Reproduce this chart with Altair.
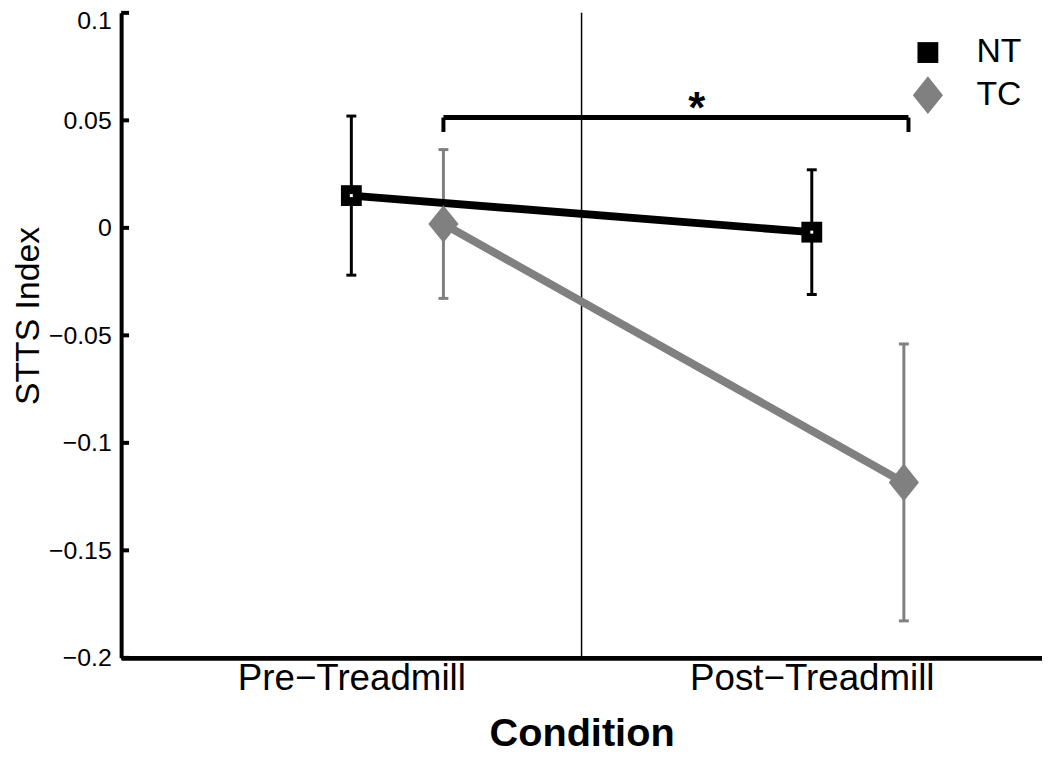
import altair as alt
import pandas as pd

# ---- data ----
groups = ["NT", "NT", "TC", "TC"]
conditions = ["Pre−Treadmill", "Post−Treadmill", "Pre−Treadmill", "Post−Treadmill"]
x_pos = [1.0, 2.0, 1.2, 2.2]
means = [0.015, -0.002, 0.0018, -0.1184]
errors = [0.037, 0.029, 0.0346, 0.0644]

group_names = ["NT", "TC"]
group_colors = ["black", "#808080"]

y_tick_values = [-0.2, -0.15, -0.1, -0.05, 0, 0.05, 0.1]
x_tick_values = [1, 2]
x_tick_labels = ["Pre−Treadmill", "Post−Treadmill"]

divider_x = [1.5]
bracket_x = [1.2, 2.21]
bracket_top = [0.0513]
bracket_bottom = [0.0446]
star_x = [1.75]
star_y = [0.0595]
star_text = ["*"]

FONT = "Liberation Sans"

df = pd.DataFrame({"group": groups, "condition": conditions, "x": x_pos,
                   "mean": means, "err": errors})
df["lo"] = df["mean"] - df["err"]
df["hi"] = df["mean"] + df["err"]

xscale = alt.Scale(domain=[0.5, 2.5], nice=False, zero=False)
yscale = alt.Scale(domain=[-0.2, 0.1], nice=False, zero=False)
cscale = alt.Scale(domain=group_names, range=group_colors)

x_label_expr = f"datum.value == {x_tick_values[0]} ? '{x_tick_labels[0]}' : '{x_tick_labels[1]}'"
y_label_expr = "datum.value == 0 ? '0' : replace(format(datum.value, '~g'), '-', '−')"

x_axis = alt.Axis(values=x_tick_values, labelExpr=x_label_expr, title="Condition",
                  ticks=False, tickSize=0, grid=False, domainWidth=5, domainColor="black",
                  labelFont=FONT, labelFontSize=37, labelColor="black", labelLimit=600,
                  labelBaseline="alphabetic", labelPadding=32, labelOverlap=False,
                  labelFlush=False,
                  titleFont=FONT, titleFontSize=40, titleFontWeight="bold",
                  titleColor="black", titleBaseline="alphabetic", titleY=88)
y_axis = alt.Axis(values=y_tick_values, labelExpr=y_label_expr, title="STTS Index",
                  ticks=False, tickSize=0, grid=False, domainWidth=4, domainColor="black",
                  labelFont=FONT, labelFontSize=25, labelColor="black", labelPadding=10,
                  labelOverlap=False, labelFlush=False,
                  labelOffset=alt.condition("datum.value == 0.1", alt.value(8), alt.value(0)),
                  titleFont=FONT, titleFontSize=34, titleFontWeight="normal",
                  titleColor="black", titleBaseline="alphabetic", titleAngle=270,
                  titleX=-83, titleY=305)

X = alt.X("x:Q", scale=xscale, axis=x_axis)


def Y(field):
    return alt.Y(field, scale=yscale, axis=y_axis)


base = alt.Chart(df)

divider = alt.Chart(pd.DataFrame({"x": divider_x})).mark_rule(
    color="black", strokeWidth=1.5).encode(x=X)

y_ticks = alt.Chart(pd.DataFrame({"v": y_tick_values})).mark_rule(
    color="black", strokeWidth=4).encode(
    x=alt.value(0), x2=alt.value(8), y=Y("v:Q"))

# per-group layers with constant colours (only the point layer carries the legend)
err_layers = []
line_layers = []
for g, col in zip(group_names, group_colors):
    sub = base.transform_filter(alt.datum.group == g)
    err_layers.append(sub.mark_rule(strokeWidth=3, color=col).encode(
        x=X, y=Y("lo:Q"), y2="hi:Q"))
    err_layers.append(sub.transform_fold(["lo", "hi"], as_=["end", "val"]).mark_tick(
        orient="horizontal", size=10, thickness=3, opacity=1, color=col).encode(
        x=X, y=Y("val:Q")))
    line_layers.append(sub.mark_line(strokeWidth=8, color=col).encode(
        x=X, y=Y("mean:Q"), order="x:Q"))

legend = alt.Legend(orient="none", legendX=794, legendY=23, title=None,
                    labelFont=FONT, labelFontSize=34, labelColor="black",
                    labelOffset=30, rowPadding=7, padding=0, labelLimit=400,
                    symbolOpacity=1, symbolStrokeWidth=0)

points = base.mark_point(filled=True, opacity=1, strokeWidth=0).encode(
    x=X, y=Y("mean:Q"),
    color=alt.Color("group:N", scale=cscale, legend=legend),
    shape=alt.Shape("group:N", scale=alt.Scale(domain=group_names,
                    range=["square", "M0,-1L0.8,0L0,1L-0.8,0Z"]), legend=legend),
    size=alt.Size("group:N", scale=alt.Scale(domain=group_names, range=[441, 1444]), legend=legend))

inner = base.transform_filter(alt.datum.group == group_names[0]).mark_point(
    filled=True, opacity=1, shape="square", size=9, color="white", strokeWidth=0).encode(
    x=X, y=Y("mean:Q"))

bracket_h = alt.Chart(pd.DataFrame({"x": [bracket_x[0]], "x2": [bracket_x[1]], "y": bracket_top})).mark_rule(
    color="black", strokeWidth=5).encode(x=X, x2="x2:Q", y=Y("y:Q"))

bracket_v = alt.Chart(pd.DataFrame({"x": bracket_x, "y": bracket_bottom * 2, "y2": bracket_top * 2})).mark_rule(
    color="black", strokeWidth=4).encode(x=X, y=Y("y:Q"), y2="y2:Q")

star = alt.Chart(pd.DataFrame({"x": star_x, "y": star_y, "t": star_text})).mark_text(
    font=FONT, fontSize=44, fontWeight="bold", color="black", baseline="middle", dy=10).encode(
    x=X, y=Y("y:Q"), text="t:N")

chart = alt.layer(divider, *err_layers, *line_layers, points, inner,
                  bracket_h, bracket_v, star, y_ticks).properties(
    width=928, height=650,
    autosize=alt.AutoSizeParams(type="none"),
    padding={"left": 114, "top": 2, "right": 0, "bottom": 96},
    background="white",
).configure_view(stroke=None)

chart.save("out.html", embed_options={"renderer": "svg", "actions": False})
